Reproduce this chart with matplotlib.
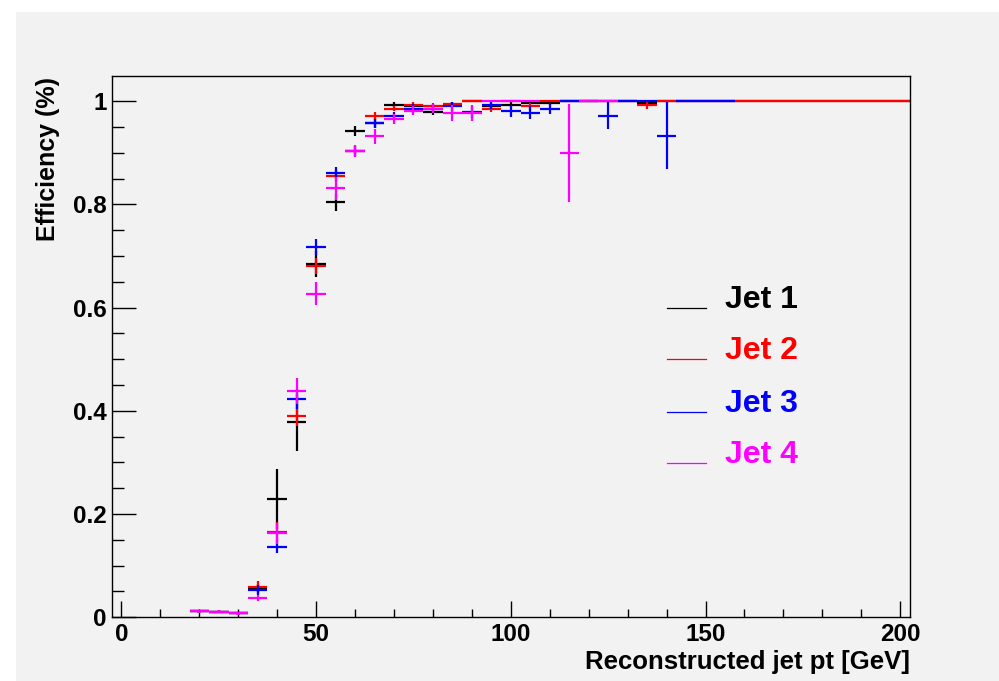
import numpy as np
import matplotlib
matplotlib.use('Agg')
import matplotlib.pyplot as plt
from matplotlib.ticker import MultipleLocator, FuncFormatter
from matplotlib.lines import Line2D
from matplotlib.patches import Rectangle

nan = np.nan

# bin centres (GeV), bin width 5
pt = [20, 25, 30, 35, 40, 45, 50, 55, 60, 65, 70, 75, 80, 85, 90, 95, 100, 105,
      110, 115, 120, 125, 130, 135, 140, 145, 150, 155, 160, 165, 170, 175, 180,
      185, 190, 195, 200]

jet1 = [0.012, 0.011, 0.008, 0.057, 0.229, 0.378, 0.685, 0.804, 0.943, 0.958,
        0.993, 0.990, 0.980, 0.993, 1.0, 0.991, 0.993, 0.997, 0.996, 1.0, 1.0,
        1.0, 1.0, 0.997, 1.0, 1.0, 1.0, 1.0, 1.0, 1.0, 1.0, 1.0, 1.0, 1.0, 1.0,
        1.0, 1.0]
jet1_err = [0.003, 0.003, 0.003, 0.008, 0.058, 0.055, 0.025, 0.017, 0.010, 0.010,
            0.005, 0.005, 0.006, 0.005, 0.0, 0.005, 0.005, 0.003, 0.004, 0.0, 0.0,
            0.0, 0.0, 0.003, 0.0, 0.0, 0.0, 0.0, 0.0, 0.0, 0.0, 0.0, 0.0, 0.0, 0.0,
            0.0, 0.0]

jet2 = [0.012, 0.011, 0.008, 0.058, 0.165, 0.391, 0.681, 0.855, 0.904, 0.972,
        0.986, 0.993, 0.991, 0.995, 1.0, 0.985, 1.0, 0.990, 1.0, 1.0, 1.0, 1.0,
        1.0, 0.993, 1.0, 1.0, 1.0, 1.0, 1.0, 1.0, 1.0, 1.0, 1.0, 1.0, 1.0, 1.0,
        1.0]
jet2_err = [0.003, 0.003, 0.003, 0.012, 0.020, 0.020, 0.015, 0.012, 0.010, 0.008,
            0.005, 0.005, 0.005, 0.004, 0.0, 0.006, 0.0, 0.006, 0.0, 0.0, 0.0, 0.0,
            0.0, 0.007, 0.0, 0.0, 0.0, 0.0, 0.0, 0.0, 0.0, 0.0, 0.0, 0.0, 0.0, 0.0,
            0.0]

jet3 = [0.012, 0.011, 0.008, 0.053, 0.137, 0.423, 0.718, 0.861, 0.904, 0.957,
        0.972, 0.986, 0.986, 0.990, 0.979, 0.993, 0.981, 0.978, 0.986, 1.0, 1.0,
        0.972, 1.0, 1.0, 0.933, 1.0, 1.0, 1.0, nan, nan, nan, nan, nan, nan, nan,
        nan, nan]
jet3_err = [0.003, 0.003, 0.003, 0.010, 0.012, 0.020, 0.015, 0.012, 0.010, 0.008,
            0.008, 0.008, 0.008, 0.008, 0.012, 0.008, 0.012, 0.012, 0.010, 0.0, 0.0,
            0.026, 0.0, 0.0, 0.065, 0.0, 0.0, 0.0, 0.0, 0.0, 0.0, 0.0, 0.0, 0.0,
            0.0, 0.0, 0.0]

jet4 = [0.012, 0.011, 0.008, 0.037, 0.163, 0.439, 0.627, 0.831, 0.904, 0.932,
        0.966, 0.982, 0.986, 0.977, 0.977, 1.0, 1.0, 1.0, nan, 0.900, 1.0, 1.0,
        nan, nan, nan, nan, nan, nan, nan, nan, nan, nan, nan, nan, nan, nan, nan]
jet4_err = [0.003, 0.003, 0.003, 0.006, 0.020, 0.025, 0.022, 0.022, 0.012, 0.015,
            0.010, 0.008, 0.008, 0.015, 0.016, 0.0, 0.0, 0.0, 0.0, 0.095, 0.0, 0.0,
            0.0, 0.0, 0.0, 0.0, 0.0, 0.0, 0.0, 0.0, 0.0, 0.0, 0.0, 0.0, 0.0, 0.0,
            0.0]

labels = ['Jet 1', 'Jet 2', 'Jet 3', 'Jet 4']
colors = ['black', '#ff0000', '#0000ff', '#ff00ff']

plt.rcParams['font.family'] = ['Liberation Sans', 'DejaVu Sans']
plt.rcParams['font.weight'] = 'bold'

W, H = 999, 681
fig = plt.figure(figsize=(W / 100, H / 100), dpi=100, facecolor='white')

# grey canvas pad like ROOT
fig.patches.append(Rectangle((16 / W, 0), 1 - 16 / W, 1 - 12 / H,
                             transform=fig.transFigure, facecolor='#f2f2f2',
                             edgecolor='none', zorder=-10))

ax = fig.add_axes([111.7 / W, 1 - 617.3 / H, (910 - 111.7) / W, (617.3 - 76) / H])
ax.set_facecolor('#f2f2f2')

series = [(jet1, jet1_err), (jet2, jet2_err), (jet3, jet3_err), (jet4, jet4_err)]
for (vals, errs), c in zip(series, colors):
    ax.errorbar(pt, vals, yerr=errs, xerr=2.5, fmt='none', ecolor=c,
                elinewidth=1.6, capsize=0)

ax.set_xlim(-2.5, 202.5)
ax.set_ylim(0, 1.049)

ax.xaxis.set_major_locator(MultipleLocator(50))
ax.xaxis.set_minor_locator(MultipleLocator(10))
ax.yaxis.set_major_locator(MultipleLocator(0.2))
ax.yaxis.set_minor_locator(MultipleLocator(0.05))
ax.yaxis.set_major_formatter(FuncFormatter(lambda v, p: '%g' % round(v, 2)))

ax.tick_params(axis='x', which='major', direction='in', length=11.5, width=1,
               labelsize=17.5, pad=4, top=False)
ax.tick_params(axis='x', which='minor', direction='in', length=5.8, width=1, top=False)
ax.tick_params(axis='y', which='major', direction='in', length=17, width=1,
               labelsize=17.5, pad=3.5, right=False)
ax.tick_params(axis='y', which='minor', direction='in', length=8.6, width=1, right=False)
for lab in ax.get_xticklabels() + ax.get_yticklabels():
    lab.set_fontweight('bold')
for s in ax.spines.values():
    s.set_linewidth(1)

fig.text(910 / W, 1 - 662 / H, 'Reconstructed jet pt [GeV]', ha='right',
         va='center', fontsize=18.5, fontweight='bold')
fig.text(48 / W, 1 - 77 / H, 'Efficiency (%)', rotation=90, ha='center',
         va='top', fontsize=18, fontweight='bold')

# legend drawn by hand, ROOT style
leg_y = [308, 359, 412, 463]
for lab, c, yy in zip(labels, colors, leg_y):
    fig.add_artist(Line2D([667 / W, 706 / W], [1 - yy / H, 1 - yy / H],
                          transform=fig.transFigure, color=c, lw=0.9))
    fig.text(725 / W, 1 - yy / H, lab, color=c, ha='left', va='baseline',
             fontsize=23, fontweight='bold')

fig.savefig('out.png', dpi=100, facecolor='white')
